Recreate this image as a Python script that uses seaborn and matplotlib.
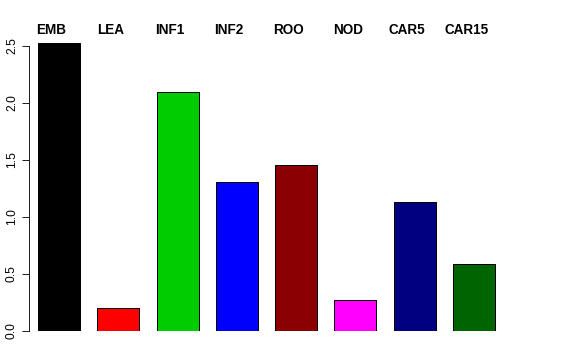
import matplotlib
matplotlib.use("Agg")
import matplotlib.pyplot as plt
import seaborn as sns
import pandas as pd

categories = ["EMB", "LEA", "INF1", "INF2", "ROO", "NOD", "CAR5", "CAR15"]
values = [2.526, 0.205, 2.094, 1.304, 1.453, 0.275, 1.129, 0.591]
colors = ["#000000", "#FF0000", "#00CD00", "#0000FF", "#8B0000", "#FF00FF", "#000080", "#006400"]
yticks = [0.0, 0.5, 1.0, 1.5, 2.0, 2.5]

sns.set_style("white")
plt.rcParams["font.family"] = ["Liberation Sans", "DejaVu Sans"]
plt.rcParams["text.color"] = "black"
plt.rcParams["ytick.color"] = "black"
plt.rcParams["ytick.labelcolor"] = "black"

df = pd.DataFrame({"cat": categories, "val": values})

fig = plt.figure(figsize=(8, 5), dpi=72)
ax = fig.add_axes([29 / 576, 29 / 360, 531 / 576, 2.6 * 114 / 360])
sns.barplot(data=df, x="cat", y="val", hue="cat", palette=colors, legend=False,
            width=0.708, edgecolor="black", linewidth=1, saturation=1, ax=ax)

ax.set_xlim(-0.506, 8.449)
ax.set_ylim(0, 2.6)
for s in ["top", "right", "bottom"]:
    ax.spines[s].set_visible(False)
ax.spines["left"].set_bounds(0, 2.5)
ax.spines["left"].set_color("#222222")
ax.spines["left"].set_linewidth(1)
ax.set_xticks([])
ax.set_yticks(yticks)
ax.set_yticklabels([f"{t:.1f}" for t in yticks], rotation=90, va="center",
                   fontsize=12, color="black")
ax.tick_params(axis="y", left=True, length=7, width=1, color="#222222", pad=4)
ax.set_xlabel("")
ax.set_ylabel("")

for i, c in enumerate(categories):
    ax.text(i - 0.13, 2.605, c, ha="center", va="baseline", fontsize=13.5,
            fontweight="bold", color="black", clip_on=False)

fig.savefig("out.png", dpi=72)
